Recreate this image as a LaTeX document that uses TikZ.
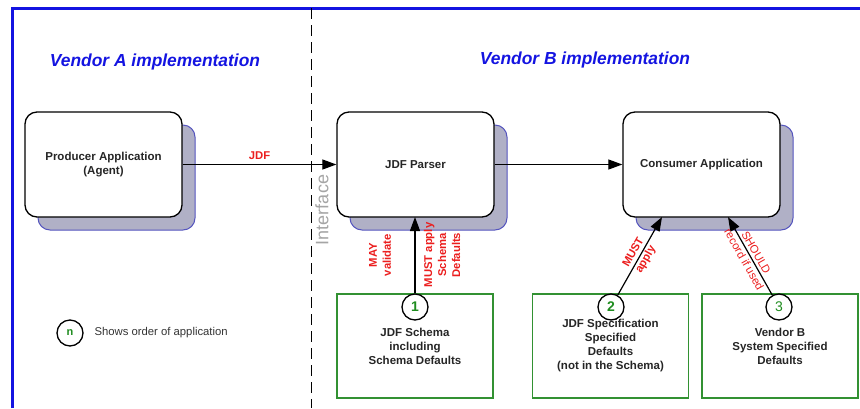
\documentclass[tikz,border=0pt]{standalone}
\usepackage{fontspec}
\setmainfont{Liberation Sans}
\usetikzlibrary{arrows.meta,shadows}
\definecolor{vblue}{RGB}{20,20,225}
\definecolor{rulered}{RGB}{235,30,30}
\definecolor{boxgreen}{RGB}{50,145,50}
\definecolor{numgreen}{RGB}{30,140,30}
\definecolor{shadowfill}{RGB}{176,176,198}
\definecolor{shadowdraw}{RGB}{85,85,190}
\definecolor{ifgray}{RGB}{165,165,165}
\begin{document}
\begin{tikzpicture}[x=1pt,y=-1pt,
  appbox/.style={draw=black, line width=1.3pt, fill=white, rounded corners=12pt,
    minimum width=157pt, minimum height=105pt, align=center, text=black!85,
    font=\fontsize{11.5}{14}\selectfont\bfseries,
    drop shadow={shadow xshift=13pt, shadow yshift=-13pt, fill=shadowfill,
      draw=shadowdraw, line width=1pt, opacity=1}},
  srcbox/.style={draw=boxgreen, line width=1.3pt, fill=white,
    minimum width=156pt, minimum height=104pt, align=center, text=black!85,
    font=\fontsize{11.5}{14}\selectfont\bfseries},
  order/.style={circle, draw=black, line width=1.3pt, fill=white, minimum size=26pt,
    inner sep=0pt, text=numgreen, font=\fontsize{14}{14}\selectfont\bfseries},
  flow/.style={line width=1.2pt, -{Triangle[length=14pt,width=10pt]}},
  rulelab/.style={text=rulered, font=\fontsize{11.3}{14}\selectfont\bfseries,
    align=center, inner sep=1pt},
  heading/.style={text=vblue, font=\fontsize{17.4}{20}\selectfont\bfseries\itshape}
]
\useasboundingbox (0,0) rectangle (860,408);
% frame
\draw[vblue, line width=3pt] (12,408) -- (12,8) -- (860,8);
% interface line
\draw[line width=1pt, dash pattern=on 11pt off 6pt] (311,8) -- (311,408);
\node[rotate=90, text=ifgray, font=\fontsize{18}{18}\selectfont] (iface) at (322,210) {Interface};
% headings
\node[heading] (hA) at (155,62) {Vendor A implementation};
\node[heading] (hB) at (585,60) {Vendor B implementation};
% application boxes
\node[appbox] (prod) at (103.5,164.5) {Producer Application\\(Agent)};
\node[appbox] (pars) at (415.5,164.5) {JDF Parser};
\node[appbox] (cons) at (701.5,164.5) {Consumer Application};
% source boxes
\node[srcbox] (s1) at (415,346) {JDF Schema\\including\\Schema Defaults};
\node[srcbox] (s2) at (610.5,346) {JDF Specification\\Specified\\Defaults\\(not in the Schema)};
\node[srcbox] (s3) at (780,346) {Vendor B\\System Specified\\Defaults};
% order circles
\node[order] (c1) at (415,307) {1};
\node[order] (c2) at (611,307) {2};
\node[order, font=\fontsize{14}{14}\selectfont] (c3) at (779,307) {3};
% targets
\coordinate (t1) at (415,217);
\coordinate (t2) at (662,217);
\coordinate (t3) at (728,217);
% flows
\draw[flow] (prod.east) -- node[rulelab, above=3pt] (ljdf) {JDF} (prod.east -| pars.west);
\draw[flow] (pars.east) -- (pars.east -| cons.west);
\draw[flow] (c1) -- (t1);
\draw[flow] (c2) -- node[rulelab, sloped] (l2) {MUST\\apply} (t2);
\draw[flow] (c3) -- node[rulelab, sloped, font=\fontsize{11.3}{14}\selectfont] (l3) {SHOULD\\record if used} (t3);
\node[rulelab, rotate=90] (lmay) at (380,255) {MAY\\validate};
\node[rulelab, rotate=90] (lmust) at (442,255) {MUST apply\\Schema\\Defaults};
% legend
\node[order, font=\fontsize{11}{11}\selectfont\bfseries] (leg) at (70,333) {n};
\node[anchor=west, text=black!80, font=\fontsize{11.3}{13}\selectfont] (legt) at (91,333) {Shows order of application};
\end{tikzpicture}
\end{document}
